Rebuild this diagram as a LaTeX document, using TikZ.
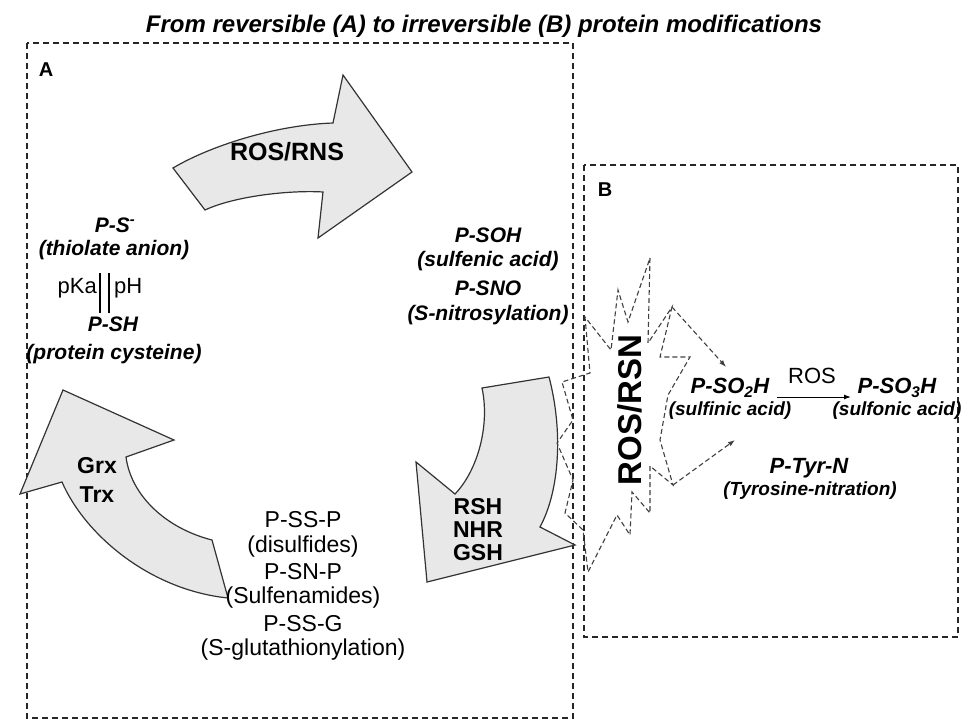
\documentclass[tikz,border=0pt]{standalone}
\usepackage{fontspec}
\setmainfont{Liberation Sans}
\usetikzlibrary{arrows.meta}
\begin{document}
\begin{tikzpicture}[x=1pt,y=-1pt,
  blockarrow/.style={draw=black!80, fill=black!9, line width=1.2pt, line join=miter},
  dbox/.style={draw=black!85, line width=1.4pt, dash pattern=on 6pt off 4pt},
  sdash/.style={draw=black!75, line width=1.1pt, dash pattern=on 5pt off 3pt},
  darrow/.style={sdash, -{Latex[length=7pt,width=5pt]}},
  bi/.style={inner sep=0pt, font=\fontsize{21}{24}\selectfont\bfseries\itshape},
  bim/.style={inner sep=0pt, font=\fontsize{22}{25}\selectfont\bfseries\itshape},
  bis/.style={inner sep=0pt, font=\fontsize{19}{22}\selectfont\bfseries\itshape},
  rg/.style={inner sep=0pt, font=\fontsize{22}{25}\selectfont},
  rgb/.style={inner sep=0pt, font=\fontsize{23}{26}\selectfont},
  bd/.style={inner sep=0pt, font=\fontsize{23}{26}\selectfont\bfseries},
  boxlbl/.style={inner sep=0pt, font=\fontsize{20}{23}\selectfont\bfseries},
]
\path[use as bounding box] (0,0) rectangle (962,723);

% title
\node[inner sep=0pt, anchor=base, font=\fontsize{24}{28}\selectfont\bfseries\itshape] (title) at (484,32)
  {From reversible (A) to irreversible (B) protein modifications};

% boxes
\draw[dbox] (27,43) rectangle (573,718);
\draw[dbox] (584,165) rectangle (958,637);
\node[boxlbl] (labA) at (46,70) {A};
\node[boxlbl] (labB) at (605,190) {B};

% top arrow ROS/RNS
\coordinate (tTO) at (173,168);
\coordinate (tBO) at (333,123);
\coordinate (tHT) at (343,75);
\coordinate (tTip) at (412,172);
\coordinate (tHB) at (318,238);
\coordinate (tBI) at (323,192);
\coordinate (tTI) at (205,210);
\draw[blockarrow] (tTO) .. controls (210,146) and (275,125) .. (tBO) -- (tHT) -- (tTip) -- (tHB) -- (tBI)
  .. controls (290,190) and (235,196) .. (tTI) -- cycle;
\node[inner sep=0pt, font=\fontsize{25}{28}\selectfont\bfseries] (rosrns) at (287,152) {ROS/RNS};

% right arrow RSH NHR GSH
\coordinate (rTI) at (482,388);
\coordinate (rTO) at (549,377);
\coordinate (rBO) at (540,527);
\coordinate (rRW) at (575,545);
\coordinate (rTip) at (427,582);
\coordinate (rLW) at (416,462);
\coordinate (rBI) at (455,494);
\draw[blockarrow] (rTI) -- (rTO) .. controls (563,430) and (560,490) .. (rBO) -- (rRW) -- (rTip) -- (rLW) -- (rBI)
  .. controls (478,470) and (490,425) .. (rTI) -- cycle;
\node[bd] (rsh) at (478,507) {RSH};
\node[bd] (nhr) at (478,530) {NHR};
\node[bd] (gsh) at (478,553) {GSH};

% left arrow Grx Trx
\coordinate (lTip) at (63,390);
\coordinate (lRW) at (174,440);
\coordinate (lBI) at (126,457);
\coordinate (lTI) at (212,540);
\coordinate (lTO) at (228,598);
\coordinate (lBO) at (62,482);
\coordinate (lLW) at (20,494);
\draw[blockarrow] (lTip) -- (lRW) -- (lBI) .. controls (131,495) and (165,528) .. (lTI) -- (lTO)
  .. controls (150,590) and (85,535) .. (lBO) -- (lLW) -- cycle;
\node[bd] (grx) at (97,466) {Grx};
\node[bd] (trx) at (97,495) {Trx};

% left texts
\node[bi] (psm) at (115,225) {P-S\textsuperscript{-}};
\node[bi] (thio) at (114,250) {(thiolate anion)};
\node[rg, anchor=east] (pka) at (97,288) {pKa};
\node[rg, anchor=west] (ph) at (114,288) {pH};
\coordinate (bar1t) at (100,273);
\coordinate (bar1b) at (100,313);
\coordinate (bar2t) at (109,273);
\coordinate (bar2b) at (109,313);
\draw[line width=2.6pt] (bar1t) -- (bar1b);
\draw[line width=2.6pt] (bar2t) -- (bar2b);
\node[bi] (psh) at (113,324) {P-SH};
\node[bi] (prot) at (114,354) {(protein cysteine)};

% right upper texts
\node[bi] (psoh) at (488,235) {P-SOH};
\node[bi] (sulfen) at (488,261) {(sulfenic acid)};
\node[bi] (psno) at (488,288) {P-SNO};
\node[bi] (snit) at (488,315) {(S-nitrosylation)};

% bottom texts
\node[rgb] (pssp) at (303,520) {P-SS-P};
\node[rgb] (disulf) at (303,547) {(disulfides)};
\node[rgb] (psnp) at (303,572) {P-SN-P};
\node[rgb] (sulfena) at (303,598) {(Sulfenamides)};
\node[rgb] (pssg) at (303,624) {P-SS-G};
\node[rgb] (sglut) at (303,650) {(S-glutathionylation)};

% star
\coordinate (s1) at (650,258);
\coordinate (s2) at (648,343);
\coordinate (s3) at (672,307);
\coordinate (s4) at (660,357);
\coordinate (s5) at (690,357);
\coordinate (s6) at (668,395);
\coordinate (s7) at (660,440);
\coordinate (s8) at (673,485);
\coordinate (s9) at (650,466);
\coordinate (s10) at (650,513);
\coordinate (s11) at (632,492);
\coordinate (s12) at (630,535);
\coordinate (s13) at (617,515);
\coordinate (s14) at (588,572);
\coordinate (s15) at (583,530);
\coordinate (s16) at (565,513);
\coordinate (s17) at (573,480);
\coordinate (s18) at (557,443);
\coordinate (s19) at (573,420);
\coordinate (s20) at (562,382);
\coordinate (s21) at (590,373);
\coordinate (s22) at (585,317);
\coordinate (s23) at (611,350);
\coordinate (s24) at (618,290);
\coordinate (s25) at (628,322);
\draw[sdash] (s1) -- (s2) -- (s3) -- (s4) -- (s5) -- (s6) -- (s7) -- (s8) -- (s9) -- (s10) -- (s11)
  -- (s12) -- (s13) -- (s14) -- (s15) -- (s16) -- (s17) -- (s18) -- (s19) -- (s20) -- (s21) -- (s22)
  -- (s23) -- (s24) -- (s25) -- cycle;
\node[inner sep=0pt, rotate=90, font=\fontsize{33}{36}\selectfont\bfseries] (rosrsn) at (630,410) {ROS/RSN};
\coordinate (a1) at (726,367);
\coordinate (a2) at (735,440);
\draw[darrow] (s3) -- (a1);
\draw[darrow] (s8) -- (a2);

% box B texts
\node[bim] (so2h) at (730,388) {P-SO\textsubscript{2}H};
\node[bis] (sulfin) at (730,411) {(sulfinic acid)};
\node[bim] (so3h) at (897,388) {P-SO\textsubscript{3}H};
\node[bis] (sulfon) at (897,411) {(sulfonic acid)};
\node[rg] (ros) at (812,376) {ROS};
\coordinate (ra) at (777,397);
\coordinate (rb) at (851,397);
\draw[line width=1pt, -{Latex[length=7pt,width=5pt]}] (ra) -- (rb);
\node[bim] (tyr) at (809,468) {P-Tyr-N};
\node[bis] (tyrn) at (810,491) {(Tyrosine-nitration)};
\end{tikzpicture}
\end{document}
